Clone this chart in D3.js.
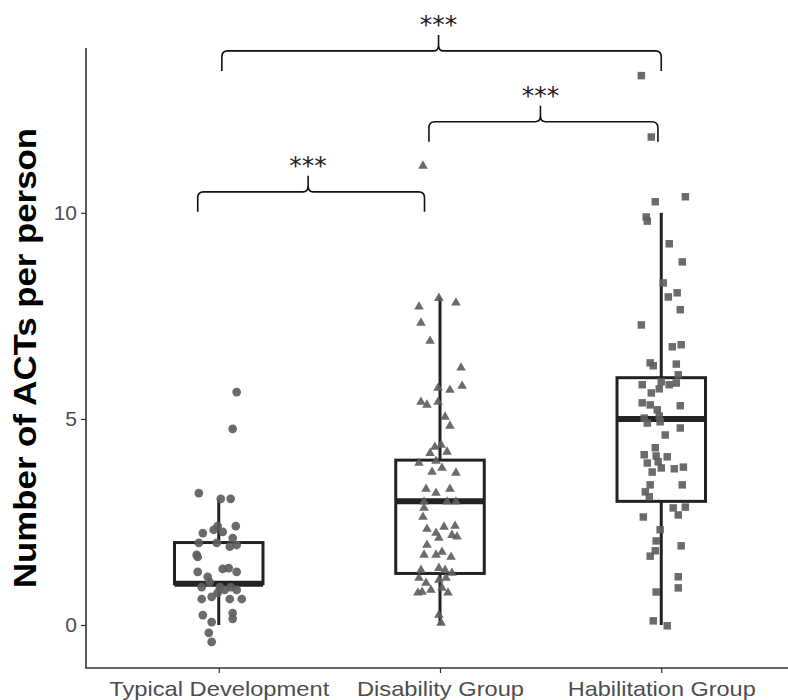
<!DOCTYPE html>
<html>
<head>
<meta charset="utf-8">
<script src="https://cdn.jsdelivr.net/npm/d3@7"></script>
<style>
  html, body { margin: 0; padding: 0; background: #fff; }
  svg { display: block; }
</style>
</head>
<body>
<svg id="chart" width="788" height="700"></svg>
<script>
// ---------- data ----------
const categories = ["Typical Development", "Disability Group", "Habilitation Group"];
const yTicks = [0, 5, 10];

const tdValues = [5.65, 4.76, 3.2, 3.06, 3.06, 2.4, 2.23, 2.31, 2.4, 2.26, 2.11, 1.99, 1.99, 1.9, 1.94,
  1.7, 1.65, 1.29, 1.36, 1.38, 1.29, 1.17, 1.04, 0.92, 0.92, 0.85, 0.92, 0.85, 0.78, 0.68, 0.63, 0.63,
  0.63, 0.24, 0.29, 0.15, 0.07, -0.19, -0.41];
const tdJitter = [0.081, 0.063, -0.09, 0.009, 0.054, 0.077, -0.072, -0.023, -0.005, 0.018, 0.063, -0.09,
  -0.009, 0.05, 0.081, -0.1, -0.095, -0.095, 0.018, 0.045, 0.081, -0.05, -0.041, -0.077, 0.005, 0.027,
  0.054, 0.081, -0.005, -0.032, -0.077, 0.05, 0.104, -0.072, 0.063, 0.063, -0.032, -0.045, -0.032];

const dgValues = [7.93, 7.82, 7.72, 7.33, 6.89, 6.24, 5.8, 5.75, 5.7, 5.41, 5.34, 5.41, 5.05, 4.83, 4.32,
  4.37, 4.17, 4.2, 3.93, 3.98, 3.71, 3.81, 3.69, 3.3, 3.2, 3.3, 2.99, 2.99, 2.99, 2.84, 2.62, 2.33, 2.38,
  2.4, 2.23, 2.11, 2.18, 2.14, 1.94, 1.7, 1.7, 1.77, 1.65, 1.33, 1.38, 1.33, 1.26, 1.14, 1.02, 1.09, 1.14,
  0.78, 0.8, 0.85, 0.9, 0.78, 0.24, 0.05, 11.14];
const dgJitter = [-0.005, 0.072, -0.095, -0.086, -0.045, 0.095, 0.1, -0.009, 0.045, -0.086, -0.059, -0.009,
  0.023, 0.045, -0.023, 0.005, -0.045, 0.032, -0.095, -0.018, -0.036, 0.009, 0.072, -0.063, -0.018, 0.045,
  -0.072, 0.032, 0.072, -0.072, -0.077, -0.059, 0.018, 0.068, -0.018, -0.005, 0.054, 0.077, -0.059, -0.072,
  -0.018, 0.009, 0.05, -0.086, -0.005, 0.023, 0.054, -0.095, -0.063, -0.005, 0.027, -0.1, -0.081, -0.041,
  0.009, 0.036, -0.005, 0.005, -0.077];

const hgValues = [13.33, 11.84, 10.39, 10.27, 9.9, 9.8, 9.25, 8.81, 8.3, 8.06, 7.96, 7.65, 7.28, 6.75, 6.8,
  6.36, 6.29, 6.33, 6.07, 5.9, 5.83, 5.87, 5.73, 5.83, 5.63, 5.39, 5.34, 5.32, 5.22, 5.07, 5.02, 4.9, 4.93,
  4.78, 4.61, 4.3, 4.13, 4.1, 4.08, 3.93, 3.96, 3.71, 3.81, 3.79, 3.83, 3.4, 3.4, 3.23, 3.11, 2.84, 2.67,
  2.86, 2.62, 2.31, 2.04, 1.92, 1.8, 1.67, 1.17, 0.9, 0.8, 0.1, -0.02];
const hgJitter = [-0.09, -0.045, 0.109, -0.027, -0.068, -0.063, 0.036, 0.095, 0.009, 0.072, 0.032, 0.086,
  -0.09, 0.05, 0.09, -0.05, -0.036, 0.068, 0.077, 0, 0.036, 0.068, -0.009, -0.086, -0.045, -0.086, -0.05,
  0.086, -0.018, -0.009, -0.077, -0.063, -0.005, 0.086, 0.018, -0.027, -0.077, -0.023, 0.027, -0.063,
  -0.014, -0.041, 0, 0.059, 0.1, 0.095, -0.05, -0.072, -0.054, 0.054, 0.077, 0.109, -0.081, -0.005, -0.023,
  0.09, -0.027, -0.05, 0.077, 0.077, -0.023, -0.036, 0.027];

// box statistics
const boxQ1 = [1, 1.25, 3];
const boxMedian = [1, 3, 5];
const boxQ3 = [2, 4, 6];
const whiskerLow = [0, 0, 0];
const whiskerHigh = [3.05, 7.95, 10];

// significance brackets: from/to in category index units, height in y units
const bracketFrom = [0.014, 0.95, -0.095];
const bracketTo = [2.0, 1.985, 0.93];
const bracketY = [13.93, 12.21, 10.51];
const bracketLabel = ["***", "***", "***"];

// ---------- chart ----------
const svg = d3.select("#chart");
const plotLeft = 86, plotRight = 794, plotTop = 48, plotBottom = 668;

const x = d3.scalePoint().domain(categories).range([plotLeft, plotRight]).padding(0.6);
const step = x.step();
const xi = v => x(categories[0]) + v * step;
const y = d3.scaleLinear().domain([-1.044, 14.0]).range([plotBottom, plotTop]);

const ink = "#222";
const pointFill = "#5e5e5e";

// boxes
const boxW = 0.4 * step;
const boxes = svg.append("g");
categories.forEach((c, i) => {
  const cx = x(c);
  const g = boxes.append("g");
  g.append("line").attr("x1", cx).attr("x2", cx)
    .attr("y1", y(boxQ3[i])).attr("y2", y(whiskerHigh[i]))
    .attr("stroke", ink).attr("stroke-width", 3);
  g.append("line").attr("x1", cx).attr("x2", cx)
    .attr("y1", y(boxQ1[i])).attr("y2", y(whiskerLow[i]))
    .attr("stroke", ink).attr("stroke-width", 3);
  g.append("rect").attr("x", cx - boxW / 2).attr("width", boxW)
    .attr("y", y(boxQ3[i])).attr("height", y(boxQ1[i]) - y(boxQ3[i]))
    .attr("fill", "#fff").attr("stroke", ink).attr("stroke-width", 3);
  g.append("line").attr("x1", cx - boxW / 2).attr("x2", cx + boxW / 2)
    .attr("y1", y(boxMedian[i])).attr("y2", y(boxMedian[i]))
    .attr("stroke", ink).attr("stroke-width", 6);
});

// points
const groups = [
  { values: tdValues, jitter: tdJitter, shape: d3.symbolCircle, size: 60 },
  { values: dgValues, jitter: dgJitter, shape: d3.symbolTriangle, size: 40 },
  { values: hgValues, jitter: hgJitter, shape: d3.symbolSquare, size: 56 }
];
const pts = svg.append("g");
groups.forEach((grp, i) => {
  const sym = d3.symbol().type(grp.shape).size(grp.size);
  pts.selectAll(null).data(grp.values).enter().append("path")
    .attr("d", sym)
    .attr("transform", (d, k) => `translate(${xi(i + grp.jitter[k])},${y(d)})`)
    .attr("fill", pointFill).attr("fill-opacity", 0.92);
});

// axes
const yAxis = d3.axisLeft(y).tickValues(yTicks).tickSize(5).tickPadding(4).tickFormat(d3.format("d"));
const gy = svg.append("g").attr("transform", `translate(${plotLeft},0)`).call(yAxis);
gy.select(".domain").remove();
gy.selectAll(".tick line").attr("stroke", "#333").attr("stroke-width", 1.2);
gy.selectAll(".tick text").attr("fill", "#4d4d4d").style("font-family", "Liberation Sans, Arial, sans-serif")
  .style("font-size", "21px");
svg.append("line").attr("x1", plotLeft).attr("x2", plotLeft).attr("y1", plotTop).attr("y2", plotBottom)
  .attr("stroke", "#333").attr("stroke-width", 1.6);

const xAxis = d3.axisBottom(x).tickSize(5).tickPadding(4);
const gx = svg.append("g").attr("transform", `translate(0,${plotBottom})`).call(xAxis);
gx.select(".domain").remove();
gx.selectAll(".tick line").attr("stroke", "#333").attr("stroke-width", 1.2);
const labelWidths = { "Typical Development": 220, "Disability Group": 167, "Habilitation Group": 188 };
gx.selectAll(".tick text").attr("fill", "#4d4d4d").attr("dy", null).attr("y", 28)
  .style("font-family", "Liberation Sans, Arial, sans-serif").style("font-size", "21px")
  .attr("textLength", d => labelWidths[d]).attr("lengthAdjust", "spacingAndGlyphs");
svg.append("line").attr("x1", plotLeft - 0.8).attr("x2", 788).attr("y1", plotBottom).attr("y2", plotBottom)
  .attr("stroke", "#333").attr("stroke-width", 1.6);

// y title
svg.append("text")
  .attr("transform", `translate(36,${(128 + 588) / 2}) rotate(-90)`)
  .attr("text-anchor", "middle")
  .attr("textLength", 460).attr("lengthAdjust", "spacingAndGlyphs")
  .style("font-family", "Liberation Sans, Arial, sans-serif").style("font-weight", "bold")
  .style("font-size", "31px").attr("fill", "#000")
  .text("Number of ACTs per person");

// brackets
const br = svg.append("g");
bracketY.forEach((v, i) => {
  const x1 = xi(bracketFrom[i]), x2 = xi(bracketTo[i]);
  const xm = (x1 + x2) / 2 - 3;
  const yh = y(v), ye = yh + 20, yp = yh - 16, r = 6;
  const p = `M${x1},${ye} L${x1},${yh + r} Q${x1},${yh} ${x1 + r},${yh} L${xm - 5},${yh}
    Q${xm},${yh} ${xm},${yh - 6} L${xm},${yp} L${xm},${yh - 6} Q${xm},${yh} ${xm + 5},${yh}
    L${x2 - r},${yh} Q${x2},${yh} ${x2},${yh + r} L${x2},${ye}`;
  br.append("path").attr("d", p).attr("fill", "none").attr("stroke", "#111").attr("stroke-width", 1.6);
  br.append("text").attr("x", xm).attr("y", yp - 2).attr("text-anchor", "middle")
    .style("font-family", "DejaVu Sans, sans-serif").style("font-size", "25px")
    .attr("fill", "#222").text(bracketLabel[i]);
});
</script>
</body>
</html>
